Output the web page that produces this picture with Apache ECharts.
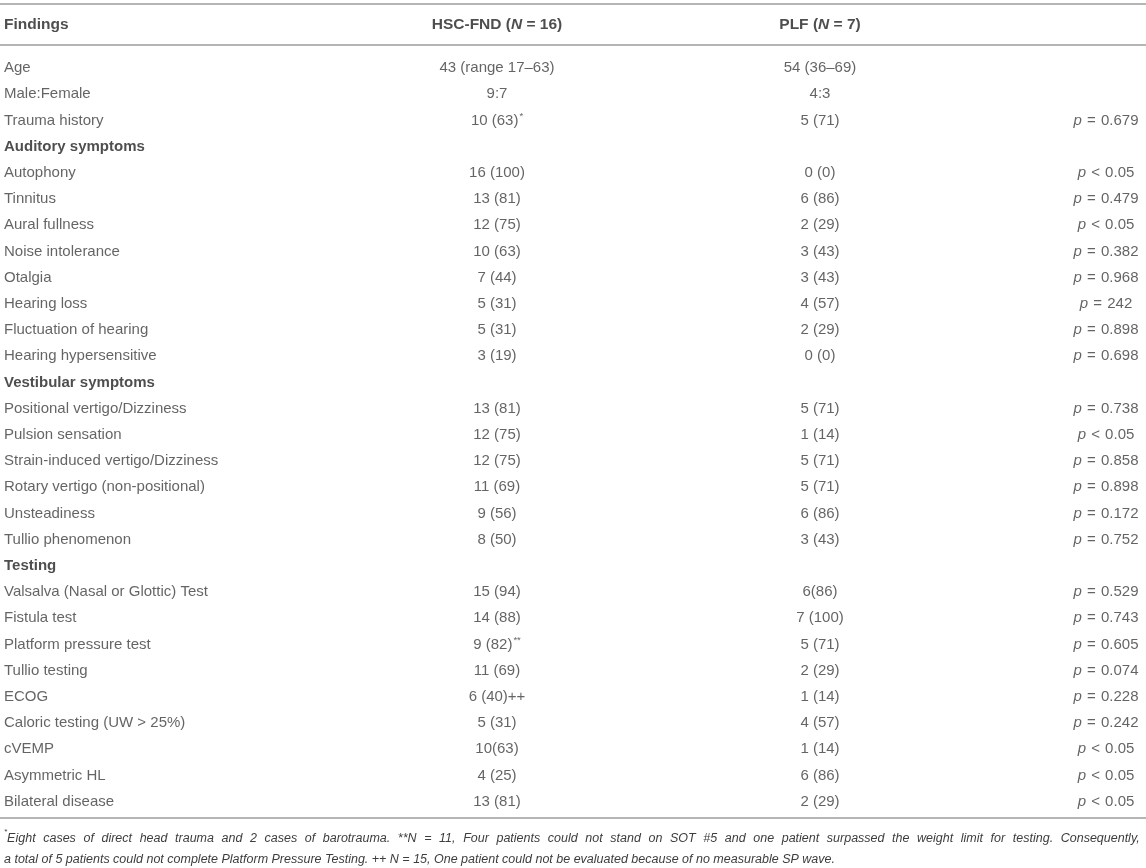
<!DOCTYPE html>
<html>
<head>
<meta charset="utf-8">
<title>HSC-FND vs PLF findings</title>
<script src="https://cdn.jsdelivr.net/npm/echarts@6/dist/echarts.min.js"></script>
<style>
  html, body { margin: 0; padding: 0; background: #fff; }
  #main { width: 1146px; height: 868px; }
</style>
</head>
<body>
<div id="main"></div>
<script>
// table content
var columnHeaders = ['Findings', 'HSC-FND (N = 16)', 'PLF (N = 7)', ''];

var findings = [
    'Age', 'Male:Female', 'Trauma history',
    'Auditory symptoms',
    'Autophony', 'Tinnitus', 'Aural fullness', 'Noise intolerance', 'Otalgia',
    'Hearing loss', 'Fluctuation of hearing', 'Hearing hypersensitive',
    'Vestibular symptoms',
    'Positional vertigo/Dizziness', 'Pulsion sensation', 'Strain-induced vertigo/Dizziness',
    'Rotary vertigo (non-positional)', 'Unsteadiness', 'Tullio phenomenon',
    'Testing',
    'Valsalva (Nasal or Glottic) Test', 'Fistula test', 'Platform pressure test',
    'Tullio testing', 'ECOG', 'Caloric testing (UW > 25%)', 'cVEMP',
    'Asymmetric HL', 'Bilateral disease'
];

var hscValues = [
    '43 (range 17–63)', '9:7', '10 (63)*',
    '',
    '16 (100)', '13 (81)', '12 (75)', '10 (63)', '7 (44)',
    '5 (31)', '5 (31)', '3 (19)',
    '',
    '13 (81)', '12 (75)', '12 (75)', '11 (69)', '9 (56)', '8 (50)',
    '',
    '15 (94)', '14 (88)', '9 (82)**', '11 (69)', '6 (40)++', '5 (31)', '10(63)',
    '4 (25)', '13 (81)'
];

var plfValues = [
    '54 (36–69)', '4:3', '5 (71)',
    '',
    '0 (0)', '6 (86)', '2 (29)', '3 (43)', '3 (43)',
    '4 (57)', '2 (29)', '0 (0)',
    '',
    '5 (71)', '1 (14)', '5 (71)', '5 (71)', '6 (86)', '3 (43)',
    '',
    '6(86)', '7 (100)', '5 (71)', '2 (29)', '1 (14)', '4 (57)', '1 (14)',
    '6 (86)', '2 (29)'
];

var pValues = [
    '', '', 'p = 0.679',
    '',
    'p < 0.05', 'p = 0.479', 'p < 0.05', 'p = 0.382', 'p = 0.968',
    'p = 242', 'p = 0.898', 'p = 0.698',
    '',
    'p = 0.738', 'p < 0.05', 'p = 0.858', 'p = 0.898', 'p = 0.172', 'p = 0.752',
    '',
    'p = 0.529', 'p = 0.743', 'p = 0.605', 'p = 0.074', 'p = 0.228', 'p = 0.242', 'p < 0.05',
    'p < 0.05', 'p < 0.05'
];

var sectionRows = ['Auditory symptoms', 'Vestibular symptoms', 'Testing'];

var footnotes = [
    '*Eight cases of direct head trauma and 2 cases of barotrauma. **N = 11, Four patients could not stand on SOT #5 and one patient surpassed the weight limit for testing. Consequently,',
    'a total of 5 patients could not complete Platform Pressure Testing. ++ N = 15, One patient could not be evaluated because of no measurable SP wave.'
];

// layout
var W = 1146;
var colX = [4, 497, 820, 1106];
var colAlign = ['left', 'center', 'center', 'center'];
var FONT = '"Liberation Sans", Arial, Helvetica, sans-serif';
var TXT = '#3d3d3d';
var RULE = '#b5b5b5';
var SIZE = 15;
var HEAD = 15.5;

var rich = {
    b:   { fontFamily: FONT, fontSize: SIZE, fontWeight: 'bold', color: '#222', lineHeight: 18 },
    h:   { fontFamily: FONT, fontSize: HEAD, fontWeight: 'bold', color: '#222', lineHeight: 18 },
    hi:  { fontFamily: FONT, fontSize: HEAD, fontWeight: 'bold', fontStyle: 'italic', color: '#222', lineHeight: 18 },
    i:   { fontFamily: FONT, fontSize: SIZE, fontStyle: 'italic', color: TXT, lineHeight: 18 },
    op:  { fontFamily: FONT, fontSize: SIZE, color: TXT, lineHeight: 18, padding: [0, 1] },
    sup: { fontFamily: FONT, fontSize: 9.5, color: TXT, lineHeight: 18, verticalAlign: 'top', padding: [0, 0, 0, 1] }
};

function cellText(s, col) {
    if (!s) return '';
    if (col === 0 && sectionRows.indexOf(s) >= 0) return '{b|' + s + '}';
    s = s.replace(/^p ([=<]) /, '{i|p} {op|$1} ');
    s = s.replace(/\)(\*+)$/, '){sup|$1}');
    return s;
}

function headerText(s) {
    if (!s) return '';
    return '{h|' + s.replace('(N', '(}{hi|N}{h|') + '}';
}

// first footnote line is justified in the original: widen its spaces
function footText() {
    var l1 = footnotes[0].replace(/^\*/, '{sup|*}').split(' ').join('{sp| }');
    return l1 + '\n' + footnotes[1];
}

var columns = [findings, hscValues, plfValues, pValues];

function hiddenX(grid, pos, line) {
    return {
        gridIndex: grid, type: 'value', min: 0, max: W, position: pos,
        axisLine: { show: line, onZero: false, lineStyle: { color: RULE, width: 2 } },
        axisTick: { show: false }, axisLabel: { show: false }, splitLine: { show: false }
    };
}

var series = [];
columnHeaders.forEach(function (h, c) {
    series.push({
        type: 'scatter', xAxisIndex: 0, yAxisIndex: 0,
        symbolSize: 1, itemStyle: { color: 'rgba(0,0,0,0)' }, silent: true,
        label: {
            show: true, position: 'inside', align: colAlign[c], verticalAlign: 'middle',
            fontFamily: FONT, fontSize: HEAD, color: '#222',
            formatter: function () { return headerText(h); },
            rich: rich
        },
        data: [[colX[c], 0]]
    });
});
columns.forEach(function (col, c) {
    series.push({
        type: 'scatter', xAxisIndex: 2, yAxisIndex: 1,
        symbolSize: 1, itemStyle: { color: 'rgba(0,0,0,0)' }, silent: true,
        label: {
            show: true, position: 'inside', align: colAlign[c], verticalAlign: 'middle',
            fontFamily: FONT, fontSize: SIZE, color: TXT, lineHeight: 18,
            formatter: function (p) { return cellText(col[p.dataIndex], c); },
            rich: rich
        },
        data: col.map(function (v, i) { return [colX[c], i]; })
    });
});

var chart = echarts.init(document.getElementById('main'));
chart.setOption({
    animation: false,
    title: {
        left: 4, top: 828, padding: 0,
        text: footText(),
        textStyle: {
            fontFamily: FONT, fontSize: 12.5, fontStyle: 'italic', fontWeight: 'normal',
            color: TXT, lineHeight: 21,
            rich: {
                sup: { fontFamily: FONT, fontSize: 8, fontStyle: 'italic', color: TXT, lineHeight: 21, verticalAlign: 'top' },
                sp: { fontFamily: FONT, fontSize: 12.5, width: 7.6, lineHeight: 21 }
            }
        }
    },
    grid: [
        { left: 0, right: 0, top: 4, height: 41 },
        { left: 0, right: 0, top: 55, height: 759.8 }
    ],
    xAxis: [
        hiddenX(0, 'top', true),
        hiddenX(0, 'bottom', true),
        Object.assign(hiddenX(1, 'bottom', true), { offset: 3 })
    ],
    yAxis: [
        { gridIndex: 0, type: 'value', min: -0.5, max: 0.5, show: false },
        { gridIndex: 1, type: 'category', data: findings, inverse: true, show: false }
    ],
    series: series
});
</script>
</body>
</html>
